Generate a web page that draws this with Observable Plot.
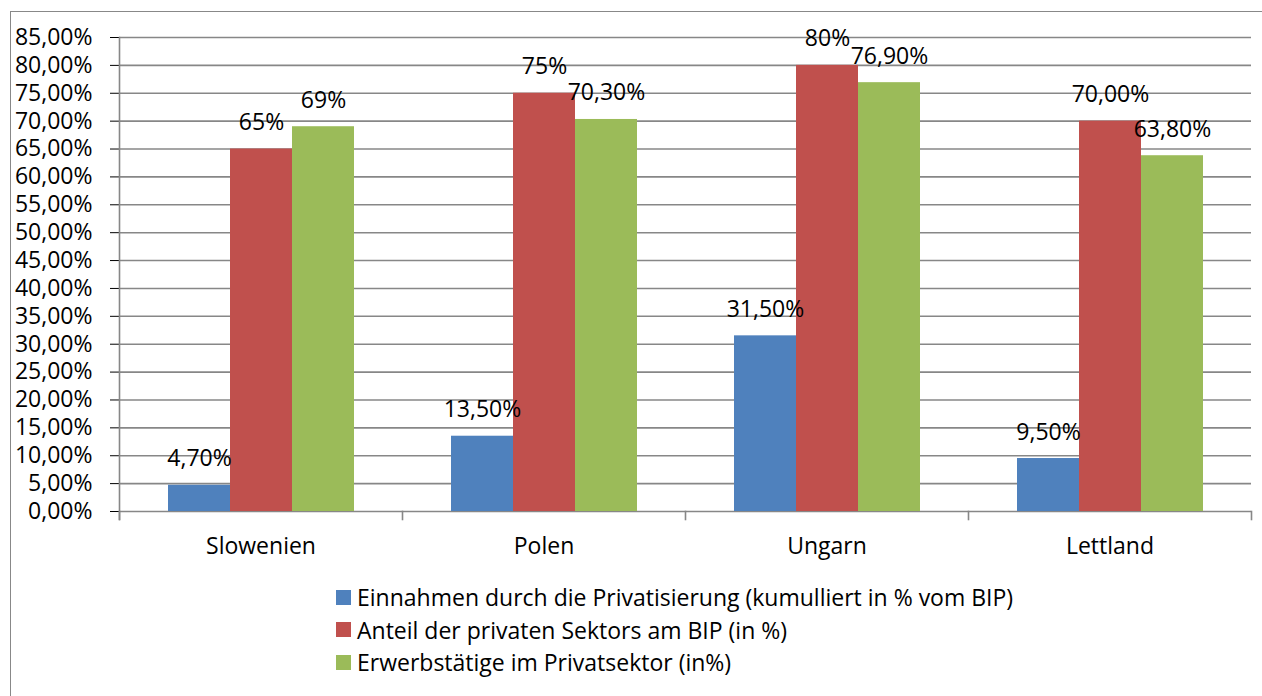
<!DOCTYPE html>
<html><head><meta charset="utf-8">
<script src="https://cdn.jsdelivr.net/npm/d3@7"></script>
<script src="https://cdn.jsdelivr.net/npm/@observablehq/plot@0.6"></script>
<style>
body{margin:0;background:#fff;font-family:"Open Sans",sans-serif;}
#wrap{position:relative;width:1262px;height:696px;overflow:hidden;background:#fff;}
#frame{position:absolute;left:10px;top:11px;width:1300px;height:720px;border-left:1.5px solid #888;border-top:1.5px solid #888;}
#chart{position:absolute;left:0;top:0;}
#legend{position:absolute;left:336px;top:581px;}
.row{display:flex;align-items:center;height:32.5px;font-size:23px;color:#000;white-space:nowrap;}
.sw{width:15px;height:15px;margin-right:6px;flex:none;}
</style></head><body>
<div id="wrap"><div id="frame"></div><div id="chart"></div><div id="legend"></div></div>
<script>
const countries = ["Slowenien", "Polen", "Ungarn", "Lettland"];
const seriesNames = [
  "Einnahmen durch die Privatisierung (kumulliert in % vom BIP)",
  "Anteil der privaten Sektors am BIP (in %)",
  "Erwerbstätige im Privatsektor (in%)"
];
const colors = ["#4F81BD", "#C0504D", "#9BBB59"];
const einnahmen = [4.7, 13.5, 31.5, 9.5];
const anteil = [65, 75, 80, 70];
const erwerb = [69, 70.3, 76.9, 63.8];
const einnahmenLabels = ["4,70%", "13,50%", "31,50%", "9,50%"];
const anteilLabels = ["65%", "75%", "80%", "70,00%"];
const erwerbLabels = ["69%", "70,30%", "76,90%", "63,80%"];
const yTicks = [0, 5, 10, 15, 20, 25, 30, 35, 40, 45, 50, 55, 60, 65, 70, 75, 80, 85];
const yTickLabels = ["0,00%", "5,00%", "10,00%", "15,00%", "20,00%", "25,00%", "30,00%", "35,00%", "40,00%", "45,00%", "50,00%", "55,00%", "60,00%", "65,00%", "70,00%", "75,00%", "80,00%", "85,00%"];

const valuesBySeries = [einnahmen, anteil, erwerb];
const labelsBySeries = [einnahmenLabels, anteilLabels, erwerbLabels];
const rows = [];
countries.forEach((c, i) => {
  seriesNames.forEach((s, j) => {
    rows.push({country: c, series: s, value: valuesBySeries[j][i], label: labelsBySeries[j][i]});
  });
});

const gridColor = "#878787";

const chart = Plot.plot({
  width: 1262,
  height: 570,
  marginLeft: 119,
  marginRight: 11,
  marginTop: 37,
  marginBottom: 59,
  style: {fontFamily: "'Open Sans', sans-serif", fontSize: "23px", color: "#000", background: "transparent"},
  fx: {domain: countries, padding: 0, label: null, tickSize: 0, tickPadding: 26, axis: "bottom"},
  x: {domain: seriesNames, axis: null, paddingInner: 0, paddingOuter: 0.75},
  y: {domain: [0, 85], ticks: yTicks, tickFormat: (d) => yTickLabels[yTicks.indexOf(d)], tickSize: 9, tickPadding: 18, label: null},
  color: {domain: seriesNames, range: colors},
  marks: [
    Plot.gridY(yTicks, {stroke: gridColor, strokeOpacity: 1, strokeWidth: 1.6}),
    Plot.frame({anchor: "left", fx: ["Slowenien"], insetBottom: -8, stroke: gridColor, strokeWidth: 1.6}),
    Plot.frame({anchor: "left", insetTop: 474, insetBottom: -8, stroke: gridColor, strokeWidth: 1.6}),
    Plot.frame({anchor: "right", fx: ["Lettland"], insetTop: 474, insetBottom: -8, stroke: gridColor, strokeWidth: 1.6}),
    Plot.barY(rows, {fx: "country", x: "series", y: "value", fill: "series"}),
    Plot.text(rows, {fx: "country", x: "series", y: "value", text: "label", lineAnchor: "bottom", dy: -19, fill: "#000", fontSize: 23})
  ]
});
document.getElementById("chart").appendChild(chart);

const legend = document.getElementById("legend");
seriesNames.forEach((s, j) => {
  const row = document.createElement("div");
  row.className = "row";
  const sw = document.createElement("span");
  sw.className = "sw";
  sw.style.background = colors[j];
  const t = document.createElement("span");
  t.textContent = s;
  row.appendChild(sw);
  row.appendChild(t);
  legend.appendChild(row);
});
</script>
</body></html>
